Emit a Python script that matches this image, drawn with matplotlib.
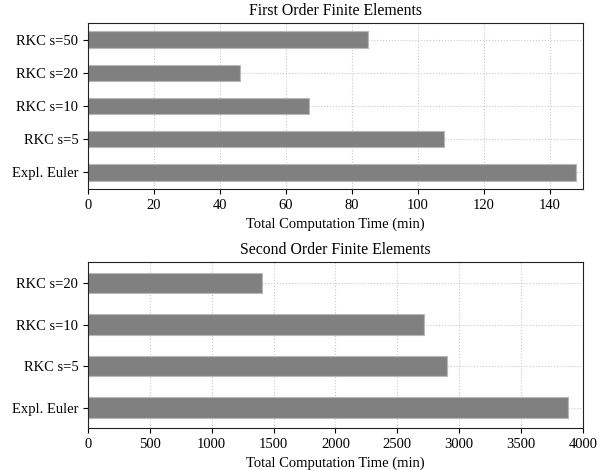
import numpy as np
import matplotlib.pyplot as plt

plt.rcParams['font.family'] = ['Liberation Serif', 'DejaVu Serif']
plt.rcParams['font.size'] = 10.5

# first order FE
labels1 = ["Expl. Euler", "RKC s=5", "RKC s=10", "RKC s=20", "RKC s=50"]
times1 = [148, 108, 67, 46, 85]

# second order FE
labels2 = ["Expl. Euler", "RKC s=5", "RKC s=10", "RKC s=20"]
times2 = [3881, 2898, 2715, 1404]

fig = plt.figure(figsize=(6.08, 4.70), dpi=100)
ax1 = fig.add_axes([0.1447, 0.5979, 0.8142, 0.3531])
ax2 = fig.add_axes([0.1447, 0.0887, 0.8142, 0.3532])

def draw(ax, labels, times, xmax, title):
    y = np.arange(len(labels))
    ax.barh(y, times, height=0.5, color="#808080", edgecolor="#b8b8b8", linewidth=0.8, zorder=2)
    ax.set_yticks(y)
    ax.set_yticklabels(labels)
    ax.set_ylim(-0.5, len(labels) - 0.5)
    ax.set_xlim(0, xmax)
    ax.grid(True, linestyle=":", color="#c8c8c8", linewidth=0.8, zorder=0)
    ax.set_axisbelow(True)
    ax.set_xlabel("Total Computation Time (min)")
    ax.set_title(title, fontsize=11.3)
    ax.tick_params(top=False, right=False, direction="out", length=3.5)
    for s in ax.spines.values():
        s.set_color("#222222")

draw(ax1, labels1, times1, 150, "First Order Finite Elements")
draw(ax2, labels2, times2, 4000, "Second Order Finite Elements")
ax1.set_xticks(np.arange(0, 141, 20))
ax2.set_xticks(np.arange(0, 4001, 500))

fig.savefig("out.png", dpi=100)
